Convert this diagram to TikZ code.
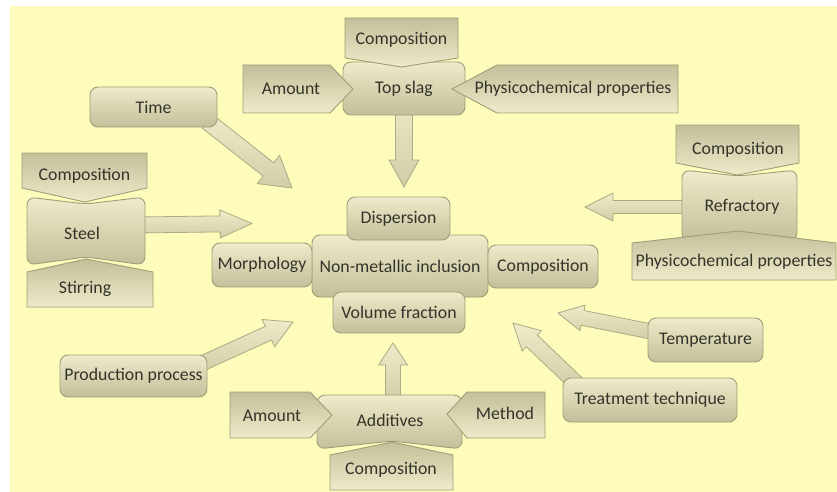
\documentclass[tikz,border=0pt]{standalone}
\usepackage{fontspec}
\setmainfont{Carlito}
\usetikzlibrary{calc}
\definecolor{bgyellow}{HTML}{FEFCBA}
\definecolor{boxlight}{HTML}{EFEBCB}
\definecolor{boxdark}{HTML}{C3BF9A}
\definecolor{boxline}{HTML}{A19D78}
\definecolor{arrlight}{HTML}{EFEBC8}
\definecolor{arrdark}{HTML}{D2CEA9}
\definecolor{arrline}{HTML}{ADA983}
\definecolor{txt}{HTML}{34332A}
\pgfdeclarelayer{bg}
\pgfdeclarelayer{arrowlayer}
\pgfsetlayers{bg,arrowlayer,main}
\tikzset{
  lbl/.style={text=txt, font=\fontsize{17.8}{20}\selectfont, inner sep=0pt},
  rbox/.style={lbl, draw=boxline, line width=0.9pt, top color=boxlight, bottom color=boxdark, rounded corners=8pt},
  sbox/.style={draw=boxline, line width=0.9pt, top color=boxlight, bottom color=boxdark},
  nbox/.style={draw=boxline, line width=0.9pt, top color=boxdark, bottom color=boxlight},
  arr/.style={draw=arrline, line width=0.8pt, top color=arrlight, bottom color=arrdark, line join=miter}
}
% #1 start, #2 tip, #3 shaft half width, #4 head half width, #5 head length
\newcommand\blockarr[5]{%
  \path ($(#2)!#5!(#1)$) coordinate (bh);
  \path[arr] ($(#1)!#3!90:(#2)$) -- ($(bh)!#3!90:(#2)$) -- ($(bh)!#4!90:(#2)$) -- (#2)
     -- ($(bh)!#4!-90:(#2)$) -- ($(bh)!#3!-90:(#2)$) -- ($(#1)!#3!-90:(#2)$) -- cycle;}
\begin{document}
\begin{tikzpicture}[x=1pt,y=-1pt]
\useasboundingbox (0,0) rectangle (837,492);
\begin{pgfonlayer}{bg}
\fill[white] (0,0) rectangle (837,492);
\fill[bgyellow] (10,6) rectangle (837,492);
\end{pgfonlayer}

% centre
\node[rbox, minimum width=176pt, minimum height=62pt] (nmi) at (400,266) {Non-metallic inclusion};
\node[rbox, minimum width=103pt, minimum height=43pt] (disp) at (398.5,218.5) {Dispersion};
\node[rbox, minimum width=132pt, minimum height=41pt] (vol) at (399,312.5) {Volume fraction};
\node[rbox, minimum width=100pt, minimum height=44pt] (morph) at (262,265) {Morphology};
\node[rbox, minimum width=110pt, minimum height=43pt] (comp4) at (543,266.5) {Composition};

% top slag group
\node[rbox, minimum width=122pt, minimum height=53pt] (topslag) at (404,88.5) {Top slag};
\path[nbox] (345,18) -- (458,18) -- (458,58) -- (401.5,67) -- (345,58) -- cycle;
\node[lbl] (comp1) at (401.5,40) {Composition};
\path[nbox] (243,65) -- (330,65) -- (353,89) -- (330,113) -- (243,113) -- cycle;
\node[lbl] (amt1) at (291,89) {Amount};
\path[nbox] (452,89) -- (497,65) -- (678,65) -- (678,113) -- (497,113) -- cycle;
\node[lbl] (phys1) at (573,89) {Physicochemical properties};

% time
\node[rbox, minimum width=127pt, minimum height=40pt] (time) at (153.5,107) {Time};

% steel group
\path[sbox, rounded corners=8pt] (27,197) -- (86,204) -- (145,197) -- (145,265) -- (86,257) -- (27,265) -- cycle;
\node[lbl, minimum width=118pt, minimum height=68pt] (steel) at (82,233) {Steel};
\path[nbox] (22,153) -- (147,153) -- (147,188) -- (84.5,202) -- (22,188) -- cycle;
\node[lbl] (comp2) at (84.5,176) {Composition};
\path[nbox] (27,272) -- (86,259) -- (153,272) -- (153,307) -- (27,307) -- cycle;
\node[lbl] (stir) at (85,289) {Stirring};

% refractory group
\path[sbox, rounded corners=8pt] (682,170) -- (739,176) -- (797,170) -- (797,241) -- (739,232) -- (682,241) -- cycle;
\node[lbl, minimum width=115pt, minimum height=70pt] (refr) at (742,207) {Refractory};
\path[nbox] (676,125) -- (799,125) -- (799,163) -- (737.5,175) -- (676,163) -- cycle;
\node[lbl] (comp3) at (738,150) {Composition};
\path[nbox] (632,243) -- (738,231) -- (836,243) -- (836,280) -- (632,280) -- cycle;
\node[lbl] (phys2) at (734,262) {Physicochemical properties};

% additives group
\path[sbox, rounded corners=8pt] (317,395) -- (462,395) -- (462,449) -- (392,441) -- (317,449) -- cycle;
\node[lbl, minimum width=145pt, minimum height=54pt] (add) at (390,420) {Additives};
\path[nbox] (230,392) -- (310,392) -- (332,415) -- (310,438) -- (230,438) -- cycle;
\node[lbl] (amt2) at (272,416) {Amount};
\path[nbox] (447,414) -- (467,392) -- (545,392) -- (545,438) -- (467,438) -- cycle;
\node[lbl] (meth) at (505,413) {Method};
\path[nbox] (330,455) -- (392,442) -- (453,455) -- (453,490) -- (330,490) -- cycle;
\node[lbl] (comp5) at (391,470) {Composition};

% other factors
\node[rbox, minimum width=147pt, minimum height=42pt] (prod) at (133.5,376) {Production process};
\node[rbox, minimum width=115pt, minimum height=44pt] (temp) at (705.5,340) {Temperature};
\node[rbox, minimum width=174pt, minimum height=44pt] (treat) at (650,400) {Treatment technique};

% block arrows
\begin{pgfonlayer}{arrowlayer}
\coordinate (tipA) at (404,187);
\blockarr{topslag.center}{tipA}{8.5pt}{15pt}{27pt}
\coordinate (timeout) at ($(time.south east)+(-10,-6)$);
\coordinate (tipB) at (292,188);
\blockarr{timeout}{tipB}{8.5pt}{18pt}{30pt}
\coordinate (steelout) at ($(steel.east)+(-5,-8)$);
\coordinate (tipC) at (252,223.5);
\blockarr{steelout}{tipC}{8pt}{14pt}{32pt}
\coordinate (refrout) at ($(refr.west)+(8,0)$);
\coordinate (tipD) at (585,207);
\blockarr{refrout}{tipD}{6.5pt}{14pt}{28pt}
\coordinate (addout) at ($(add.north)+(3,8)$);
\coordinate (tipE) at (393,343);
\blockarr{addout}{tipE}{7.5pt}{14.5pt}{22pt}
\coordinate (prodout) at ($(prod.north east)+(-8,10)$);
\coordinate (tipF) at (293,322);
\blockarr{prodout}{tipF}{7.5pt}{15pt}{27pt}
\coordinate (tempout) at ($(temp.west)+(6,-8)$);
\coordinate (tipG) at (558,313);
\blockarr{tempout}{tipG}{7.5pt}{13pt}{25pt}
\coordinate (treatout) at ($(treat.north west)+(14,6)$);
\coordinate (tipH) at (513,323);
\blockarr{treatout}{tipH}{8pt}{14pt}{26pt}
\end{pgfonlayer}
\end{tikzpicture}
\end{document}
